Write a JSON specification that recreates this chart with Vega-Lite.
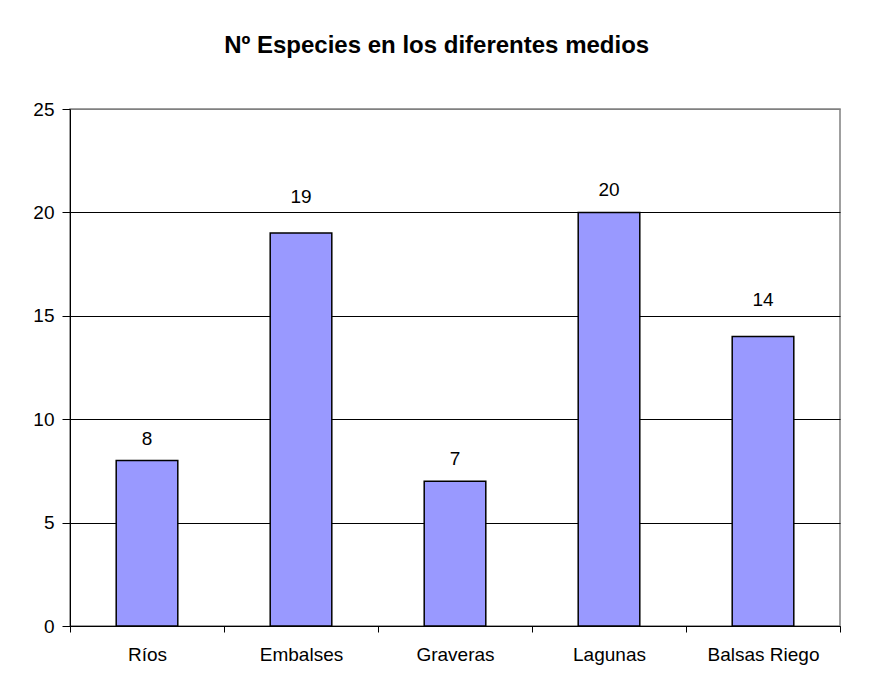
{
  "$schema": "https://vega.github.io/schema/vega-lite/v6.json",
  "width": 770,
  "height": 517,
  "autosize": {"type": "pad"},
  "padding": {"left": 32, "top": 34, "right": 30, "bottom": 10},
  "background": "white",
  "title": {
    "text": "Nº Especies en los diferentes medios",
    "font": "Liberation Sans",
    "fontSize": 24,
    "fontWeight": "bold",
    "color": "black",
    "anchor": "middle",
    "frame": "bounds",
    "offset": 42
  },
  "config": {
    "font": "Liberation Sans",
    "view": {"stroke": "#808080", "strokeWidth": 1.5}
  },
  "data": {
    "values": [
      {"medio": "Ríos", "n": 8},
      {"medio": "Embalses", "n": 19},
      {"medio": "Graveras", "n": 7},
      {"medio": "Lagunas", "n": 20},
      {"medio": "Balsas Riego", "n": 14}
    ]
  },
  "encoding": {
    "x": {
      "field": "medio",
      "type": "nominal",
      "sort": null,
      "scale": {"paddingInner": 0, "paddingOuter": 0},
      "axis": {
        "title": null,
        "labelAngle": 0,
        "tickBand": "extent",
        "tickSize": 6,
        "tickColor": "black",
        "domainColor": "black",
        "labelFontSize": 19,
        "labelColor": "black",
        "labelPadding": 13,
        "grid": false
      }
    },
    "y": {
      "field": "n",
      "type": "quantitative",
      "scale": {"domain": [0, 25], "nice": false},
      "axis": {
        "title": null,
        "values": [0, 5, 10, 15, 20, 25],
        "grid": true,
        "gridColor": {"condition": {"test": "datum.value === 25", "value": "#808080"}, "value": "black"},
        "gridOpacity": 1,
        "gridWidth": 1,
        "tickSize": 8,
        "tickColor": "black",
        "domainColor": "black",
        "labelFontSize": 19,
        "labelColor": "black",
        "labelPadding": 8
      }
    }
  },
  "layer": [
    {
      "mark": {"type": "bar", "width": {"band": 0.4}, "fill": "#9999FF", "stroke": "black", "strokeWidth": 1.5}
    },
    {
      "transform": [{"filter": {"field": "medio", "oneOf": ["Ríos", "Graveras", "Lagunas"]}}],
      "mark": {"type": "text", "dy": -16, "baseline": "alphabetic", "fontSize": 19, "color": "black"},
      "encoding": {"text": {"field": "n", "type": "quantitative"}}
    },
    {
      "transform": [{"filter": {"field": "medio", "oneOf": ["Embalses", "Balsas Riego"]}}],
      "mark": {"type": "text", "dy": -30, "baseline": "alphabetic", "fontSize": 19, "color": "black"},
      "encoding": {"text": {"field": "n", "type": "quantitative"}}
    }
  ]
}
